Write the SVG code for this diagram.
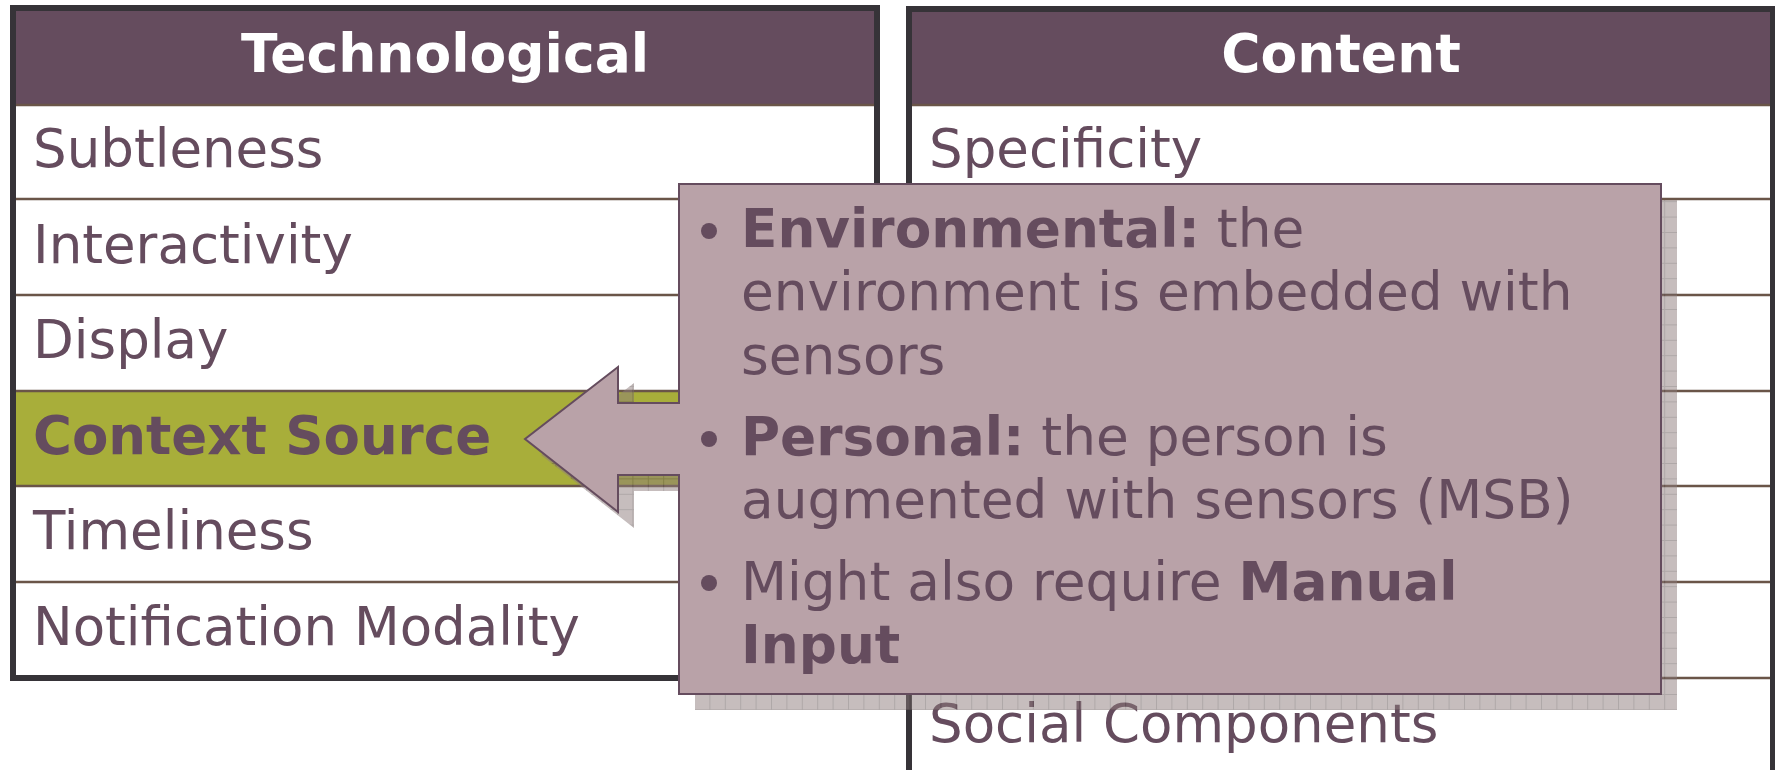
<svg xmlns="http://www.w3.org/2000/svg" width="1775" height="770" viewBox="0 0 1775 770">
<style>
.t{font-family:"DejaVu Sans","Verdana",sans-serif;font-size:53px;fill:#654C5E}
.h{font-family:"DejaVu Sans","Verdana",sans-serif;font-size:53.5px;font-weight:bold;fill:#ffffff}
.c{font-family:"DejaVu Sans","Verdana",sans-serif;font-size:53.3px;fill:#654C5E}
.b{font-weight:bold}
.row{stroke:#6a5548;stroke-width:2.5}
.frame{fill:none;stroke:#363338;stroke-width:6}
.head{fill:#654C5E}
.dot{fill:#654C5E}
</style>
<defs>
<pattern id="grid" patternUnits="userSpaceOnUse" width="15.4" height="15.4" x="1" y="1">
<rect width="15.4" height="15.4" fill="#8c7b7b"/>
<path d="M0 0.5H15.4M0.5 0V15.4" stroke="#5e5050" stroke-width="1"/>
</pattern>
</defs>
<rect width="1775" height="770" fill="#ffffff"/>
<g id="table-technological">
<rect x="13" y="8" width="864" height="670" fill="#ffffff"/>
<rect class="head" x="13" y="8" width="864" height="96"/>
<rect x="16" y="391" width="858" height="95" fill="#A8AE3A"/>
<line class="row" x1="16" y1="105" x2="874" y2="105" stroke="#8a7565"/>
<line class="row" x1="16" y1="199" x2="874" y2="199"/>
<line class="row" x1="16" y1="295" x2="874" y2="295"/>
<line class="row" x1="16" y1="391" x2="874" y2="391"/>
<line class="row" x1="16" y1="486" x2="874" y2="486"/>
<line class="row" x1="16" y1="582" x2="874" y2="582"/>
<rect class="frame" x="13" y="8" width="864" height="670"/>
<text class="h" x="445" y="72" text-anchor="middle">Technological</text>
<text class="t" x="33" y="167">Subtleness</text>
<text class="t" x="33" y="263">Interactivity</text>
<text class="t" x="33" y="358">Display</text>
<text class="t b" x="33" y="454">Context Source</text>
<text class="t" x="33" y="549">Timeliness</text>
<text class="t" x="33" y="645">Notification Modality</text>
</g>
<g id="table-content">
<rect x="909" y="9" width="864" height="800" fill="#ffffff"/>
<rect class="head" x="909" y="9" width="864" height="95"/>
<line class="row" x1="912" y1="105" x2="1770" y2="105" stroke="#8a7565"/>
<line class="row" x1="912" y1="199" x2="1770" y2="199"/>
<line class="row" x1="912" y1="295" x2="1770" y2="295"/>
<line class="row" x1="912" y1="391" x2="1770" y2="391"/>
<line class="row" x1="912" y1="486" x2="1770" y2="486"/>
<line class="row" x1="912" y1="582" x2="1770" y2="582"/>
<line class="row" x1="912" y1="678" x2="1770" y2="678"/>
<rect class="frame" x="909" y="9" width="864" height="800"/>
<text class="h" x="1341" y="72" text-anchor="middle">Content</text>
<text class="t" x="929" y="167">Specificity</text>
<text class="t" x="929" y="742">Social Components</text>
</g>
<g id="connectors"></g>
<g id="callout">
<polygon points="695,200 1677,200 1677,710 695,710 695,491 634,491 634,528 541,455 634,383 634,419 695,419" fill="url(#grid)" opacity="0.5"/>
<polygon points="679,184 1661,184 1661,694 679,694 679,475 618,475 618,512 525,439 618,367 618,403 679,403" fill="#B9A2A8" stroke="#654C5E" stroke-width="2" stroke-linejoin="miter"/>
<circle class="dot" cx="709" cy="231" r="8"/>
<circle class="dot" cx="709" cy="439" r="8"/>
<circle class="dot" cx="709" cy="583" r="8"/>
<text class="c" x="741" y="247"><tspan class="b">Environmental:</tspan> the</text>
<text class="c" x="741" y="310">environment is embedded with</text>
<text class="c" x="741" y="374">sensors</text>
<text class="c" x="741" y="455"><tspan class="b">Personal:</tspan> the person is</text>
<text class="c" x="741" y="518">augmented with sensors (MSB)</text>
<text class="c" x="741" y="600">Might also require <tspan class="b">Manual</tspan></text>
<text class="c" x="741" y="663"><tspan class="b">Input</tspan></text>
</g>
</svg>
